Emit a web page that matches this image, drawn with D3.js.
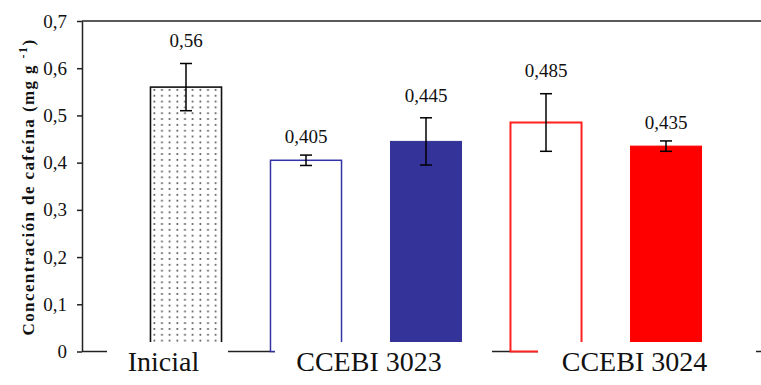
<!DOCTYPE html>
<html>
<head>
<meta charset="utf-8">
<script src="https://cdn.jsdelivr.net/npm/d3@7"></script>
<style>
  html, body { margin: 0; padding: 0; background: #fff; }
  svg { display: block; }
</style>
</head>
<body>
<svg id="chart" width="761" height="385"></svg>
<script>
// Caffeine content per treatment (mg g-1), with standard deviation
const bars = ["Inicial", "3023-A", "3023-B", "3024-A", "3024-B"];
const values = [0.56, 0.405, 0.445, 0.485, 0.435];
const errors = [0.05, 0.011, 0.05, 0.061, 0.011];
const groupLabels = ["Inicial", "CCEBI 3023", "CCEBI 3024"];
const yTicks = [0, 0.1, 0.2, 0.3, 0.4, 0.5, 0.6, 0.7];
const yTickLabels = ["0", "0,1", "0,2", "0,3", "0,4", "0,5", "0,6", "0,7"];

const svg = d3.select("#chart");
const W = 761, H = 385;
const serif = "'Liberation Serif', 'Times New Roman', serif";
const axisColor = "#222";

svg.append("rect").attr("width", W).attr("height", H).attr("fill", "#fff");

// dotted fill for the initial sample
const defs = svg.append("defs");
const pat = defs.append("pattern")
  .attr("id", "dots")
  .attr("patternUnits", "userSpaceOnUse")
  .attr("x", 152).attr("y", 87)
  .attr("width", 7.67).attr("height", 5.83);
pat.append("rect").attr("width", 7.67).attr("height", 5.83).attr("fill", "#fff");
pat.append("rect").attr("x", 1.5).attr("y", 2.1).attr("width", 1.6).attr("height", 1.6).attr("fill", "#3a3a3a");

const x = d3.scaleBand()
  .domain(bars)
  .range([126, 726])
  .paddingInner(0.408)
  .paddingOuter(0.204);

const y = d3.scaleLinear().domain([0, 0.7]).range([351.5, 21]);

// bar appearance: open or solid, in each strain colour
const barStyle = [
  { fill: "url(#dots)", stroke: "#111", sw: 1.6 },
  { fill: "#fff", stroke: "#3333a6", sw: 1.5 },
  { fill: "#333399", stroke: "#333399", sw: 1 },
  { fill: "#fff", stroke: "#ff2020", sw: 2 },
  { fill: "#ff0000", stroke: "#ff0000", sw: 1 }
];

// frame: top line and baseline
svg.append("line")
  .attr("x1", 82).attr("x2", W)
  .attr("y1", y(0.7)).attr("y2", y(0.7))
  .attr("stroke", axisColor).attr("stroke-width", 1.5);
svg.append("line")
  .attr("x1", 82).attr("x2", W)
  .attr("y1", y(0)).attr("y2", y(0))
  .attr("stroke", axisColor).attr("stroke-width", 1.5);

// y axis
const yAxis = d3.axisLeft(y)
  .tickValues(yTicks)
  .tickFormat((d, i) => yTickLabels[i])
  .tickSize(5)
  .tickSizeOuter(0)
  .tickPadding(10);
const gy = svg.append("g").attr("transform", "translate(82,0)").call(yAxis);
gy.attr("font-family", serif);
gy.select(".domain").attr("stroke", axisColor).attr("stroke-width", 1.5);
gy.selectAll(".tick line").attr("stroke", axisColor).attr("stroke-width", 1.5);
gy.selectAll(".tick text")
  .attr("font-family", serif).attr("font-size", 19).attr("fill", "#111");

// bars
svg.append("g").selectAll("rect")
  .data(bars)
  .join("rect")
  .attr("x", d => x(d))
  .attr("y", (d, i) => y(values[i]))
  .attr("width", x.bandwidth())
  .attr("height", (d, i) => y(0) - y(values[i]))
  .attr("fill", (d, i) => barStyle[i].fill)
  .attr("stroke", (d, i) => barStyle[i].stroke)
  .attr("stroke-width", (d, i) => barStyle[i].sw);

// error bars
const eb = svg.append("g").attr("stroke", "#000").attr("stroke-width", 1.5).attr("fill", "none");
bars.forEach((b, i) => {
  const cx = x(b) + x.bandwidth() / 2;
  const hi = y(values[i] + errors[i]);
  const lo = y(values[i] - errors[i]);
  eb.append("line").attr("x1", cx).attr("x2", cx).attr("y1", hi).attr("y2", lo);
  eb.append("line").attr("x1", cx - 6).attr("x2", cx + 6).attr("y1", hi).attr("y2", hi);
  eb.append("line").attr("x1", cx - 6).attr("x2", cx + 6).attr("y1", lo).attr("y2", lo);
});

// value labels above the whiskers
svg.append("g").selectAll("text")
  .data(bars)
  .join("text")
  .attr("x", d => x(d) + x.bandwidth() / 2)
  .attr("y", (d, i) => y(values[i] + errors[i]) - (11 + 100 * errors[i]))
  .attr("text-anchor", "middle")
  .attr("font-family", serif)
  .attr("font-size", 19)
  .attr("fill", "#111")
  .text((d, i) => String(values[i]).replace(".", ","));

// category captions in white boxes along the baseline
const captionBoxes = [
  { x0: 107, x1: 228, tx: 163.5 },
  { x0: 275, x1: 492, tx: 369 },
  { x0: 538, x1: 756, tx: 634.5 }
];
const cap = svg.append("g");
groupLabels.forEach((t, i) => {
  const b = captionBoxes[i];
  cap.append("rect")
    .attr("x", b.x0).attr("y", 342)
    .attr("width", b.x1 - b.x0).attr("height", H - 342)
    .attr("fill", "#fff");
  cap.append("text")
    .attr("x", b.tx).attr("y", 371)
    .attr("text-anchor", "middle")
    .attr("font-family", serif)
    .attr("font-size", 28)
    .attr("fill", "#111")
    .text(t);
});

// y axis title
const title = svg.append("text")
  .attr("transform", "translate(33.5,187) rotate(-90)")
  .attr("text-anchor", "middle")
  .attr("font-family", serif)
  .attr("font-size", 17)
  .attr("font-weight", "bold")
  .attr("letter-spacing", 1.4)
  .attr("fill", "#111");
title.append("tspan").text("Concentración de cafeína (mg g ");
title.append("tspan").attr("dy", -7).attr("font-size", 12).text("-1");
title.append("tspan").attr("dy", 7).text(")");
</script>
</body>
</html>
